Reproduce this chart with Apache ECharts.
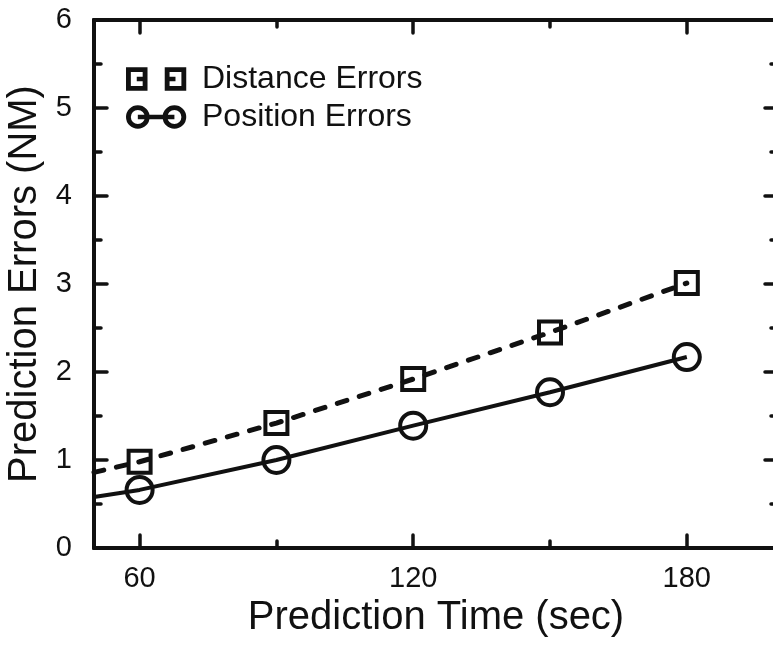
<!DOCTYPE html>
<html>
<head>
<meta charset="utf-8">
<title>Prediction Errors</title>
<script src="https://cdn.jsdelivr.net/npm/echarts@6/dist/echarts.min.js"></script>
<style>
  html, body { margin: 0; padding: 0; background: #fff; }
  #chart { width: 773px; height: 645px; }
</style>
</head>
<body>
<div id="chart"></div>
<script>
// Prediction time (sec) at which the errors were measured
const times = [60, 90, 120, 150, 180];
// Mean prediction errors (NM)
const distanceErrors = [0.98, 1.42, 1.92, 2.45, 3.01];
const positionErrors = [0.66, 1.00, 1.39, 1.77, 2.17];
// Where each trend line meets the left edge of the plot
const lineStartTime = 50;
const distanceAtStart = 0.86;
const positionAtStart = 0.58;

// Axis ticks
const majorTimeTicks = [60, 120, 180];
const minorTimeTicks = [90, 150];
const timeRange = [50, 200];
const errorRange = [0, 6];

const INK = '#111';
const FONT = 'Liberation Sans, Arial, Helvetica, sans-serif';

// Legend glyphs: two hollow markers joined by the series line.
// The last zero-area sub-path only widens the icon box so the label sits further right.
const squarePairIcon = 'path://' +
  'M0,0L20,0L20,22L0,22Z M4.5,4.5L4.5,17.5L15.5,17.5L15.5,4.5Z M10,9L20,9L20,13L10,13Z ' +
  'M36,0L56,0L56,22L36,22Z M40.5,4.5L40.5,17.5L51.5,17.5L51.5,4.5Z M36,9L46,9L46,13L36,13Z ' +
  'M66,11L66,11Z';
const circlePairIcon = 'path://' +
  'M0,11A11,11 0 1 1 22,11A11,11 0 1 1 0,11Z M4.5,11A6.5,6.5 0 1 0 17.5,11A6.5,6.5 0 1 0 4.5,11Z ' +
  'M34,11A11,11 0 1 1 56,11A11,11 0 1 1 34,11Z M38.5,11A6.5,6.5 0 1 0 51.5,11A6.5,6.5 0 1 0 38.5,11Z ' +
  'M11,9L45,9L45,13L11,13Z M66,11L66,11Z';

function seriesData(startValue, values) {
  const pts = [{ value: [lineStartTime, startValue], symbol: 'none' }];
  times.forEach((t, i) => pts.push([t, values[i]]));
  return pts;
}

function timeAxis(position, tickValues, tickLength, withLabels) {
  return {
    type: 'value',
    position: position,
    min: timeRange[0],
    max: timeRange[1],
    splitLine: { show: false },
    axisLine: { show: true, lineStyle: { color: INK, width: 4 } },
    axisTick: {
      show: true, inside: true, length: tickLength,
      customValues: tickValues,
      lineStyle: { color: INK, width: 3.5, cap: 'round' }
    },
    axisLabel: withLabels ? {
      customValues: tickValues,
      color: INK, fontFamily: FONT, fontSize: 29, margin: 16
    } : { show: false }
  };
}

function errorAxis(position, withLabels) {
  return {
    type: 'value',
    position: position,
    min: errorRange[0],
    max: errorRange[1],
    interval: 1,
    splitLine: { show: false },
    minorSplitLine: { show: false },
    axisLine: { show: true, lineStyle: { color: INK, width: 4 } },
    axisTick: { show: true, inside: true, length: 13, lineStyle: { color: INK, width: 3.5, cap: 'round' } },
    minorTick: { show: true, splitNumber: 2, length: 7, lineStyle: { color: INK, width: 3.5, cap: 'round' } },
    axisLabel: withLabels ? { color: INK, fontFamily: FONT, fontSize: 29, margin: 22 } : { show: false }
  };
}

const xBottom = timeAxis('bottom', majorTimeTicks, 13, true);
xBottom.name = 'Prediction Time (sec)';
xBottom.nameLocation = 'middle';
xBottom.nameGap = 41;
xBottom.nameTextStyle = { color: INK, fontFamily: FONT, fontSize: 40 };

const yLeft = errorAxis('left', true);
yLeft.name = 'Prediction Errors (NM)';
yLeft.nameLocation = 'middle';
yLeft.nameRotate = 90;
yLeft.nameGap = 47;
yLeft.nameTextStyle = { color: INK, fontFamily: FONT, fontSize: 40 };

const chart = echarts.init(document.getElementById('chart'), null, { renderer: 'canvas' });
chart.setOption({
  backgroundColor: '#fff',
  animation: false,
  grid: { left: 94, top: 20, width: 684, height: 528, containLabel: false, outerBoundsMode: 'none' },
  xAxis: [
    xBottom,
    timeAxis('bottom', minorTimeTicks, 7, false),
    timeAxis('top', majorTimeTicks, 13, false),
    timeAxis('top', minorTimeTicks, 7, false)
  ],
  yAxis: [yLeft, errorAxis('right', false)],
  legend: {
    orient: 'vertical',
    left: 121,
    top: 58,
    padding: 5,
    itemWidth: 71,
    itemHeight: 27,
    itemGap: 6,
    selectedMode: false,
    itemStyle: { color: INK, borderColor: 'transparent', borderWidth: 0 },
    textStyle: { color: INK, fontFamily: FONT, fontSize: 32, lineHeight: 32 },
    data: [
      { name: 'Distance Errors', icon: squarePairIcon },
      { name: 'Position Errors', icon: circlePairIcon }
    ]
  },
  series: [
    {
      name: 'Distance Errors',
      type: 'line',
      xAxisIndex: 0,
      yAxisIndex: 0,
      data: seriesData(distanceAtStart, distanceErrors),
      symbol: 'rect',
      symbolSize: 22,
      showAllSymbol: true,
      silent: true,
      itemStyle: { color: 'transparent', borderColor: INK, borderWidth: 4 },
      lineStyle: { color: INK, width: 5, type: [10, 13], cap: 'round' }
    },
    {
      name: 'Position Errors',
      type: 'line',
      xAxisIndex: 0,
      yAxisIndex: 0,
      data: seriesData(positionAtStart, positionErrors),
      symbol: 'circle',
      symbolSize: 26,
      showAllSymbol: true,
      silent: true,
      itemStyle: { color: 'transparent', borderColor: INK, borderWidth: 4 },
      lineStyle: { color: INK, width: 4 }
    }
  ]
});
</script>
</body>
</html>
